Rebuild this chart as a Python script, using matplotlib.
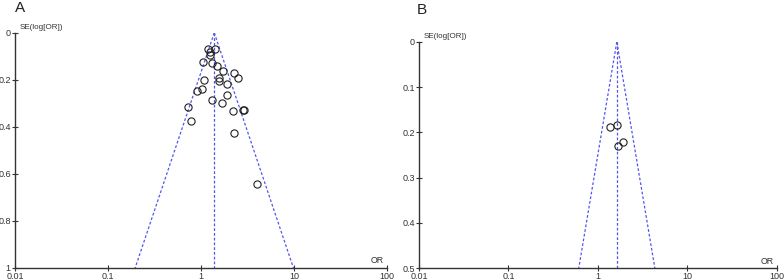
import numpy as np
import matplotlib
matplotlib.use("Agg")
import matplotlib.pyplot as plt

plt.rcParams['font.family'] = ['Liberation Sans', 'DejaVu Sans']

# Panel A data
or_a = [1.18, 1.43, 1.24, 1.26, 1.05, 1.30, 1.48, 1.74, 2.26, 2.50, 1.08, 1.55, 1.57,
        1.92, 1.03, 0.91, 1.89, 1.30, 1.67, 0.73, 2.22, 2.83, 2.92, 0.78, 2.26, 3.97]
se_a = [0.071, 0.069, 0.083, 0.096, 0.125, 0.128, 0.140, 0.163, 0.173, 0.193, 0.201, 0.191,
        0.207, 0.218, 0.237, 0.247, 0.266, 0.286, 0.298, 0.315, 0.334, 0.329, 0.329, 0.376,
        0.427, 0.645]
pooled_a = 1.39
semax_a = 1.0
yticks_a = [0, 0.2, 0.4, 0.6, 0.8, 1]
ylabels_a = ["0", "0.2", "0.4", "0.6", "0.8", "1"]

# Panel B data
or_b = [1.37, 1.64, 1.70, 1.90]
se_b = [0.188, 0.183, 0.231, 0.221]
pooled_b = 1.63
semax_b = 0.5
yticks_b = [0, 0.1, 0.2, 0.3, 0.4, 0.5]
ylabels_b = ["0", "0.1", "0.2", "0.3", "0.4", "0.5"]

xticks = [0.01, 0.1, 1, 10, 100]
xlabels = ["0.01", "0.1", "1", "10", "100"]

fig = plt.figure(figsize=(7.84, 2.8), dpi=100)
axA = fig.add_axes([0.0191, 0.0429, 0.4745, 0.840])
axB = fig.add_axes([0.5344, 0.0418, 0.4563, 0.809])

fc = '#5555ee'
axcol = '#333333'

def panel(ax, ors, ses, pooled, semax, yt, yl, letter, letter_x, letter_y):
    se_line = np.array([0, semax])
    lo = np.exp(np.log(pooled) - 1.96 * se_line)
    hi = np.exp(np.log(pooled) + 1.96 * se_line)
    ax.plot(lo, se_line, linestyle=(0, (2.2, 1.6)), color=fc, lw=0.9)
    ax.plot(hi, se_line, linestyle=(0, (2.2, 1.6)), color=fc, lw=0.9)
    ax.plot([pooled, pooled], se_line, linestyle=(0, (2.2, 1.6)), color=fc, lw=0.9)
    ax.plot(ors, ses, 'o', mfc='none', mec='#222222', mew=0.8, ms=5.2, linestyle='none')
    ax.set_xscale('log')
    ax.set_xlim(0.01, 100)
    ax.set_ylim(semax, 0)
    ax.set_xticks(xticks)
    ax.set_xticklabels(xlabels)
    ax.minorticks_off()
    ax.set_yticks(yt)
    ax.set_yticklabels(yl)
    for s in ['top', 'right']:
        ax.spines[s].set_visible(False)
    for s in ['left', 'bottom']:
        ax.spines[s].set_color(axcol)
        ax.spines[s].set_linewidth(1.0)
    ax.tick_params(axis='both', direction='inout', length=4, width=0.8, colors=axcol,
                   labelsize=6.5, pad=1, labelcolor='#333333')
    ax.annotate("SE(log[OR])", xy=(0, 1), xycoords='axes fraction', xytext=(3.5, 3.5),
                textcoords='offset points', fontsize=5.8, color='#333333', ha='left', va='center')
    ax.annotate("OR", xy=(1, 0), xycoords='axes fraction', xytext=(-2, 2),
                textcoords='offset points', fontsize=6.3, color='#333333', ha='right', va='bottom')
    fig.text(letter_x, letter_y, letter, fontsize=11, ha='left', va='top', color='#222222')

panel(axA, or_a, se_a, pooled_a, semax_a, yticks_a, ylabels_a, "A", 0.019, 0.995)
panel(axB, or_b, se_b, pooled_b, semax_b, yticks_b, ylabels_b, "B", 0.531, 0.99)

fig.savefig("out.png", dpi=100)
